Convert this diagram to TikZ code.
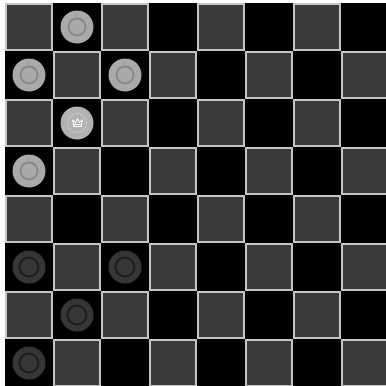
\documentclass[tikz,border=0pt]{standalone}
\definecolor{sqfill}{HTML}{3B3B3B}
\definecolor{sqedge}{HTML}{C6C6C6}
\definecolor{lpfill}{HTML}{A9A9A9}
\definecolor{lpring}{HTML}{888888}
\definecolor{kfill}{HTML}{B2B2B2}
\definecolor{kring}{HTML}{C8C8C8}
\definecolor{dpfill}{HTML}{363636}
\definecolor{dpring}{HTML}{1C1C1C}
\tikzset{
  lightsq/.style={fill=sqfill,draw=sqedge,line width=1.5pt},
  lightpiece/.style={fill=lpfill},
  lightring/.style={draw=lpring,line width=1.8pt},
  kingpiece/.style={fill=kfill},
  kingring/.style={draw=kring,line width=0.8pt},
  darkpiece/.style={fill=dpfill},
  darkring/.style={draw=dpring,line width=1.8pt},
  crown/.style={draw=white,line width=0.8pt,line join=round}
}
\begin{document}
\begin{tikzpicture}[x=1pt,y=-1pt]
\useasboundingbox (0,0) rectangle (386,386);
\fill[white] (0,0) rectangle (386,386);
\begin{scope}
\clip (0,0) rectangle (386,386);
\fill[black] (5,3) rectangle (390,390);
\foreach \r in {0,...,7}{
  \foreach \c in {0,...,7}{
    \pgfmathtruncatemacro{\p}{mod(\r+\c,2)}
    \ifnum\p=0
      \path[lightsq] ({5+48*\c+1},{3+48*\r+1}) rectangle ({5+48*\c+47},{3+48*\r+47});
    \fi
  }
}
% light pieces
\foreach \r/\c in {0/1,1/0,1/2,3/0}{
  \path[lightpiece] ({29+48*\c},{27+48*\r}) circle (16.5);
  \path[lightring] ({29+48*\c},{27+48*\r}) circle (8.5);
}
% king
\path[kingpiece] (77,123) circle (16.5);
\path[kingring] (77,123) circle (9.5);
\begin{scope}[shift={(77.5,123)}]
  \path[crown] (-4,3.5) -- (4,3.5) -- (4,1.5) -- (-4,1.5) -- cycle;
  \path[crown] (-4,1.5) -- (-5,-3) -- (-2,-0.5) -- (0,-4.5) -- (2,-0.5) -- (5,-3) -- (4,1.5);
\end{scope}
% dark pieces
\foreach \r/\c in {5/0,5/2,6/1,7/0}{
  \path[darkpiece] ({29+48*\c},{27+48*\r}) circle (16.5);
  \path[darkring] ({29+48*\c},{27+48*\r}) circle (9.5);
}
\end{scope}
\end{tikzpicture}
\end{document}
